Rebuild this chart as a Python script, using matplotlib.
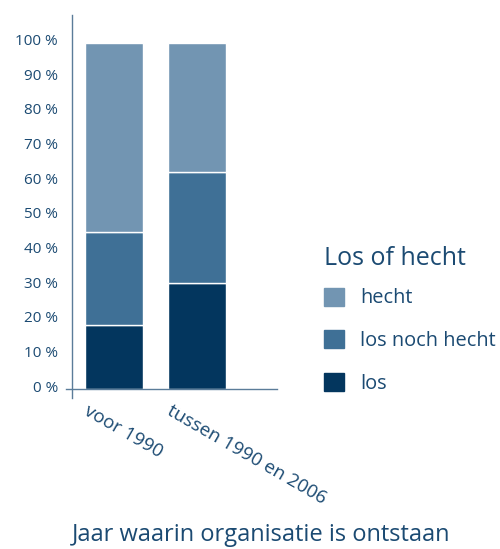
import matplotlib.pyplot as plt
from matplotlib.patches import Patch
import matplotlib.transforms as mtransforms

plt.rcParams['font.family'] = ['Open Sans', 'DejaVu Sans']

# data (share in %)
categories = ['voor 1990', 'tussen 1990 en 2006']
los = [18.5, 30.7]
los_noch_hecht = [26.7, 31.9]
hecht = [54.8, 37.4]
yticks = [0, 10, 20, 30, 40, 50, 60, 70, 80, 90, 100]

text_col = '#1b4a72'
line_col = '#5b7c99'
c_los = '#03365e'
c_mid = '#3f7096'
c_hecht = '#7295b2'

fig = plt.figure(figsize=(5, 5.49), dpi=100)
ax = fig.add_axes([0.144, 0.275, 0.41, 0.698])

x = range(len(categories))
bottom2 = [a + b for a, b in zip(los, los_noch_hecht)]
ax.bar(x, los, width=0.7, color=c_los, edgecolor='white', linewidth=1)
ax.bar(x, los_noch_hecht, bottom=los, width=0.7, color=c_mid, edgecolor='white', linewidth=1)
ax.bar(x, hecht, bottom=bottom2, width=0.7, color=c_hecht, edgecolor='white', linewidth=1)

ax.set_xlim(-0.51, 1.96)
ax.set_ylim(-2.6, 108.0)
for s in ['top', 'right', 'bottom']:
    ax.spines[s].set_visible(False)
ax.spines['left'].set_color(line_col)
ax.spines['left'].set_linewidth(1)
ax.axhline(0, xmin=-0.03, xmax=1, color=line_col, linewidth=1, clip_on=False)

ax.set_yticks(yticks)
ax.set_yticklabels([f'{v} %' for v in yticks], fontsize=11, color=text_col)
ax.tick_params(axis='y', length=0, pad=10)
up = mtransforms.ScaledTranslation(0, 0.03, fig.dpi_scale_trans)
for lbl in ax.get_yticklabels():
    lbl.set_transform(lbl.get_transform() + up)

ax.set_xticks(list(x))
ax.set_xticklabels(categories, rotation=-30, ha='left', va='top',
                   rotation_mode='anchor', fontsize=13.5, color=text_col)
ax.tick_params(axis='x', length=0, pad=3)
offset = mtransforms.ScaledTranslation(-0.24, 0, fig.dpi_scale_trans)
for lbl in ax.get_xticklabels():
    lbl.set_transform(lbl.get_transform() + offset)

handles = [Patch(color=c_hecht), Patch(color=c_mid), Patch(color=c_los)]
leg = fig.legend(handles, ['hecht', 'los noch hecht', 'los'],
                 loc='upper left', bbox_to_anchor=(0.648, 0.552),
                 frameon=False, fontsize=14.4, title='Los of hecht',
                 alignment='left', borderpad=0, borderaxespad=0,
                 handlelength=1.0, handleheight=1.0, handletextpad=0.8,
                 labelspacing=1.1)
leg.get_title().set_fontsize(18)
leg.get_title().set_color(text_col)
leg._legend_box.sep = 12
for t in leg.get_texts():
    t.set_color(text_col)

fig.text(0.522, 1 - 535 / 549, 'Jaar waarin organisatie is ontstaan',
         ha='center', va='center', fontsize=17, color=text_col)

fig.savefig('out.png', dpi=100)
